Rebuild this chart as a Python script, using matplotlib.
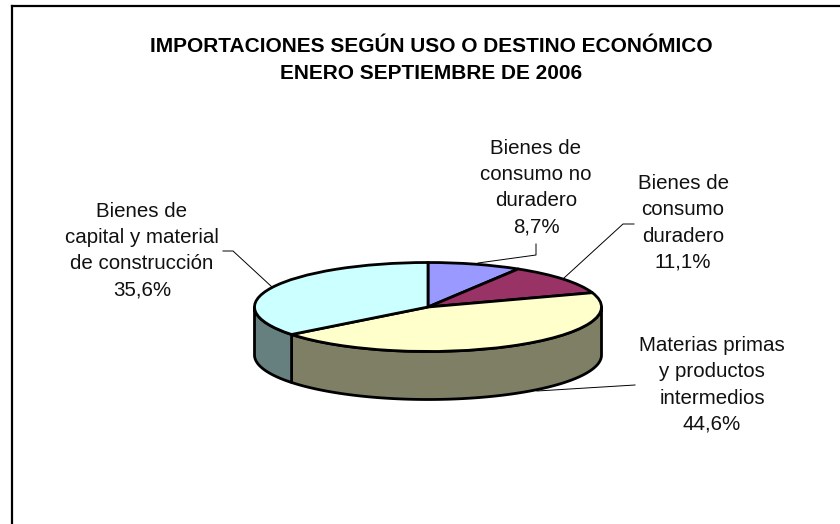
import numpy as np
import matplotlib
matplotlib.use("Agg")
import matplotlib.pyplot as plt

plt.rcParams['font.family'] = ['Liberation Sans', 'DejaVu Sans']

title_lines = ["IMPORTACIONES SEGÚN USO O DESTINO ECONÓMICO", "ENERO SEPTIEMBRE DE 2006"]
categories = ["Bienes de\nconsumo no\nduradero", "Bienes de\nconsumo\nduradero",
              "Materias primas\ny productos\nintermedios", "Bienes de\ncapital y material\nde construcción"]
values = [8.7, 11.1, 44.6, 35.6]
top_colors = ["#9999FF", "#993366", "#FFFFCC", "#CCFFFF"]
side_colors = ["#66667F", "#66334C", "#7F7F66", "#667F7F"]

W, H = 840, 524
fig = plt.figure(figsize=(W / 100, H / 100), dpi=100, facecolor="white")

# overlay in pixel coordinates
ov = fig.add_axes([0, 0, 1, 1], zorder=3)
ov.set_xlim(0, W); ov.set_ylim(H, 0); ov.axis("off"); ov.patch.set_alpha(0)

# frame (open at right and bottom, cropped in the source)
ov.plot([12, 12], [H, 6], color="black", lw=1.6, solid_capstyle="projecting")
ov.plot([12, W], [6, 6], color="black", lw=1.6, solid_capstyle="projecting")

ov.text(431, 60, "\n".join(title_lines), ha="center", va="center", fontsize=15.05,
        fontweight="bold", linespacing=1.55, color="black")

# pie
cx0, cx1, cy0, cy1 = 254.5, 601.5, 262.5, 351.5
depth_px = 48
ax = fig.add_axes([cx0 / W, 1 - cy1 / H, (cx1 - cx0) / W, (cy1 - cy0) / H], zorder=2)
depth = depth_px / ((cy1 - cy0) / 2)
EDGE = dict(edgecolor="black", linewidth=2.0, joinstyle="round", clip_on=False)

fractions = np.array(values) / np.sum(values)
edges = np.concatenate([[0], np.cumsum(fractions)]) * 2 * np.pi
for i in range(len(values)):
    a0, a1 = max(edges[i], np.pi / 2), min(edges[i + 1], 3 * np.pi / 2)
    if a1 <= a0:
        continue
    t = np.linspace(a0, a1, 120)
    x, y = np.sin(t), np.cos(t)
    ax.fill(np.r_[x, x[::-1]], np.r_[y, (y - depth)[::-1]], facecolor=side_colors[i], **EDGE)

ax.pie(values, colors=top_colors, startangle=90, counterclock=False, radius=1,
       wedgeprops=dict(edgecolor="black", linewidth=2.0, clip_on=False, joinstyle="round"))
ax.set_aspect("auto")
ax.set_xlim(-1, 1); ax.set_ylim(-1, 1)
ax.axis("off")

# labels
label_xy = [(536, 187.5), (683, 223), (712, 385), (142, 250.5)]
for name, v, (lx, ly) in zip(categories, values, label_xy):
    s = f"{name}\n{v:.1f}%".replace(".", ",")
    ov.text(lx, ly, s, ha="center", va="center", fontsize=14.8, linespacing=1.47, color="#111111")

# leader lines
leaders = [[(536, 244), (536, 255), (478, 263)],
           [(634, 224), (623, 224), (564, 278)],
           [(635, 385), (537, 391)],
           [(223, 251), (233, 251), (272, 287)]]
for pts in leaders:
    xs, ys = zip(*pts)
    ov.plot(xs, ys, color="black", lw=0.7)

fig.savefig("out.png", dpi=100)
